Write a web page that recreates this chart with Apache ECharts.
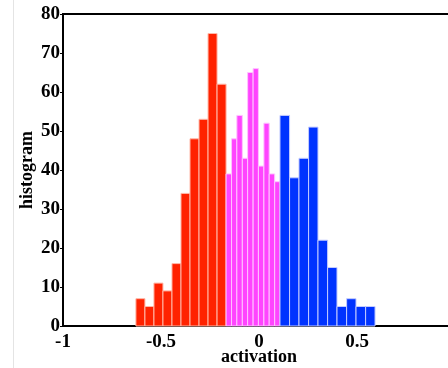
<!DOCTYPE html>
<html>
<head>
<meta charset="utf-8">
<script src="https://cdn.jsdelivr.net/npm/echarts@6/dist/echarts.min.js"></script>
<style>
  html, body { margin: 0; padding: 0; background: #fff; }
  #chart { width: 448px; height: 368px; }
</style>
</head>
<body>
<div id="chart"></div>
<script>
// bin edges (activation) and counts for the three groups
var redEdges = [-0.628, -0.582, -0.536, -0.490, -0.444, -0.398, -0.352, -0.306, -0.260, -0.214, -0.168];
var redCounts = [7, 5, 11, 9, 16, 34, 48, 53, 75, 62];
var pinkEdges = [-0.168, -0.140, -0.113, -0.085, -0.058, -0.030, -0.003, 0.025, 0.052, 0.080, 0.107];
var pinkCounts = [39, 48, 54, 43, 65, 66, 41, 52, 39, 37];
var blueEdges = [0.107, 0.156, 0.204, 0.253, 0.301, 0.350, 0.398, 0.447, 0.495, 0.544, 0.592];
var blueCounts = [54, 38, 43, 51, 22, 15, 5, 7, 5, 5];

var xTicks = [-1, -0.5, 0, 0.5, 1];
var yTicks = [0, 10, 20, 30, 40, 50, 60, 70, 80];

var font = "'Liberation Serif', 'DejaVu Serif', serif";

function toBins(edges, counts) {
  var out = [];
  for (var i = 0; i < counts.length; i++) {
    out.push([edges[i], edges[i + 1], counts[i]]);
  }
  return out;
}

function histSeries(name, edges, counts, fill, stroke) {
  return {
    name: name,
    type: "custom",
    data: toBins(edges, counts),
    encode: { x: [0, 1], y: 2 },
    renderItem: function (params, api) {
      var p0 = api.coord([api.value(0), 0]);
      var p1 = api.coord([api.value(1), api.value(2)]);
      return {
        type: "rect",
        shape: { x: p0[0], y: p1[1], width: p1[0] - p0[0], height: p0[1] - p1[1] },
        style: { fill: fill, stroke: stroke, lineWidth: 1 }
      };
    }
  };
}

var chart = echarts.init(document.getElementById("chart"));
chart.setOption({
  animation: false,
  backgroundColor: "#fff",
  grid: {
    left: 63,
    right: -7,
    top: 14,
    bottom: 42,
    outerBoundsMode: "none",
    containLabel: false,
    show: true,
    borderColor: "#000",
    borderWidth: 2
  },
  graphic: [
    {
      type: "line",
      shape: { x1: 13.5, y1: 0, x2: 13.5, y2: 368 },
      style: { stroke: "#e4e4e4", lineWidth: 1 }
    }
  ],
  xAxis: {
    type: "value",
    min: xTicks[0],
    max: xTicks[xTicks.length - 1],
    interval: 0.5,
    name: "activation",
    nameLocation: "middle",
    nameGap: 22,
    nameMoveOverlap: false,
    nameTextStyle: { fontFamily: font, fontWeight: "bold", fontSize: 18, color: "#000" },
    axisLine: { show: true, onZero: false, lineStyle: { color: "#000", width: 2 } },
    axisTick: { show: false },
    splitLine: { show: false },
    axisLabel: {
      showMaxLabel: false,
      margin: 7,
      fontFamily: font,
      fontWeight: "bold",
      fontSize: 19,
      color: "#000"
    }
  },
  yAxis: {
    type: "value",
    min: yTicks[0],
    max: yTicks[yTicks.length - 1],
    interval: 10,
    name: "histogram",
    nameLocation: "middle",
    nameGap: 27,
    nameMoveOverlap: false,
    nameTextStyle: { fontFamily: font, fontWeight: "bold", fontSize: 18, color: "#000" },
    axisLine: { show: true, onZero: false, lineStyle: { color: "#000", width: 2 } },
    axisTick: { show: true, inside: false, length: 3, lineStyle: { color: "#000", width: 1 } },
    splitLine: { show: false },
    axisLabel: {
      margin: 3,
      fontFamily: font,
      fontWeight: "bold",
      fontSize: 19,
      color: "#000"
    }
  },
  series: [
    histSeries("negative", redEdges, redCounts, "#ff2200", "#ffb8a8"),
    histSeries("middle", pinkEdges, pinkCounts, "#ff44ff", "#ffc4ff"),
    histSeries("positive", blueEdges, blueCounts, "#0033ff", "#c4ccff")
  ]
});
</script>
</body>
</html>
